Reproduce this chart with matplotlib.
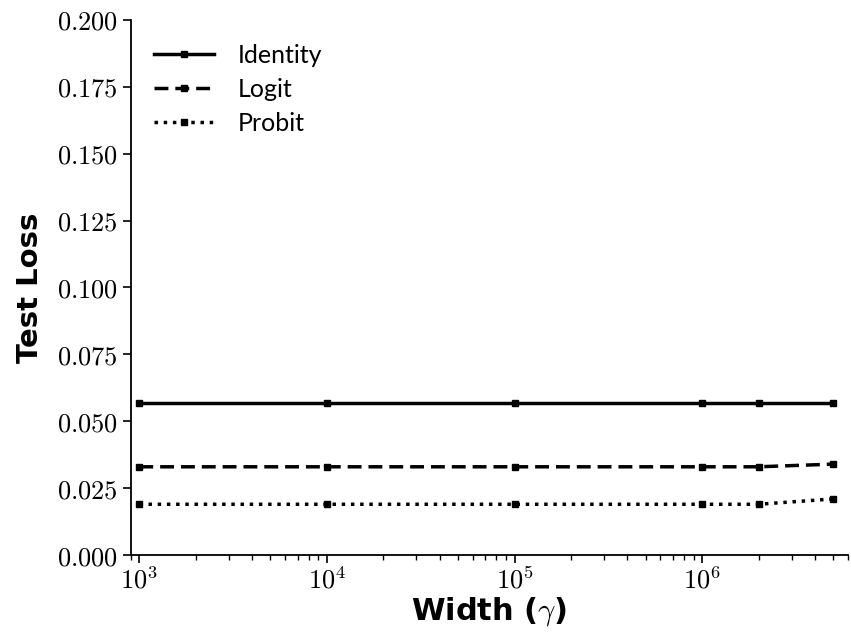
import matplotlib
matplotlib.use("Agg")
import matplotlib.pyplot as plt
from matplotlib.ticker import LogLocator, NullFormatter, FuncFormatter
import numpy as np

plt.rcParams['mathtext.fontset'] = 'cm'
plt.rcParams['font.family'] = ['DejaVu Sans']

widths = [1e3, 1e4, 1e5, 1e6, 2e6, 5e6]
identity = [0.057, 0.057, 0.057, 0.057, 0.057, 0.057]
logit = [0.033, 0.033, 0.033, 0.033, 0.033, 0.034]
probit = [0.019, 0.019, 0.019, 0.019, 0.019, 0.021]
series_names = ["Identity", "Logit", "Probit"]
y_ticks = [0.000, 0.025, 0.050, 0.075, 0.100, 0.125, 0.150, 0.175, 0.200]

fig = plt.figure(figsize=(8.51, 6.41), dpi=100)
ax = fig.add_axes([0.1536, 0.134, 0.843, 0.835])

styles = ['-', (0, (4, 2)), ':']
for vals, name, ls in zip([identity, logit, probit], series_names, styles):
    ax.plot(widths, vals, linestyle=ls, color='black', lw=2.5,
            marker='s', markersize=5, label=name)

ax.set_xscale('log')
ax.set_xlim(900, 6e6)
ax.set_ylim(0, 0.2)
ax.set_yticks(y_ticks)
ax.set_yticklabels([r'$%.3f$' % v for v in y_ticks])
ax.xaxis.set_major_locator(LogLocator(base=10, numticks=10))
ax.xaxis.set_major_formatter(FuncFormatter(lambda v, p: r'$10^{%d}$' % int(round(np.log10(v)))))
ax.xaxis.set_minor_locator(LogLocator(base=10, subs=range(2, 10), numticks=20))
ax.xaxis.set_minor_formatter(NullFormatter())
ax.tick_params(axis='both', which='major', labelsize=19, width=1.2, length=6)
ax.tick_params(axis='x', which='minor', width=1.0, length=3.5)

for s in ['top', 'right']:
    ax.spines[s].set_visible(False)
for s in ['left', 'bottom']:
    ax.spines[s].set_linewidth(1.3)

ax.set_xlabel(r'Width ($\gamma$)', fontsize=22, fontweight='bold', labelpad=0)
ax.set_ylabel('Test Loss', fontsize=21, fontweight='bold', labelpad=9)

ax.legend(loc='upper left', frameon=False, prop={'family': 'Lato', 'size': 18},
          handlelength=2.4, borderaxespad=0.55, labelspacing=0.45, handletextpad=0.95)

fig.savefig('out.png', dpi=100)
